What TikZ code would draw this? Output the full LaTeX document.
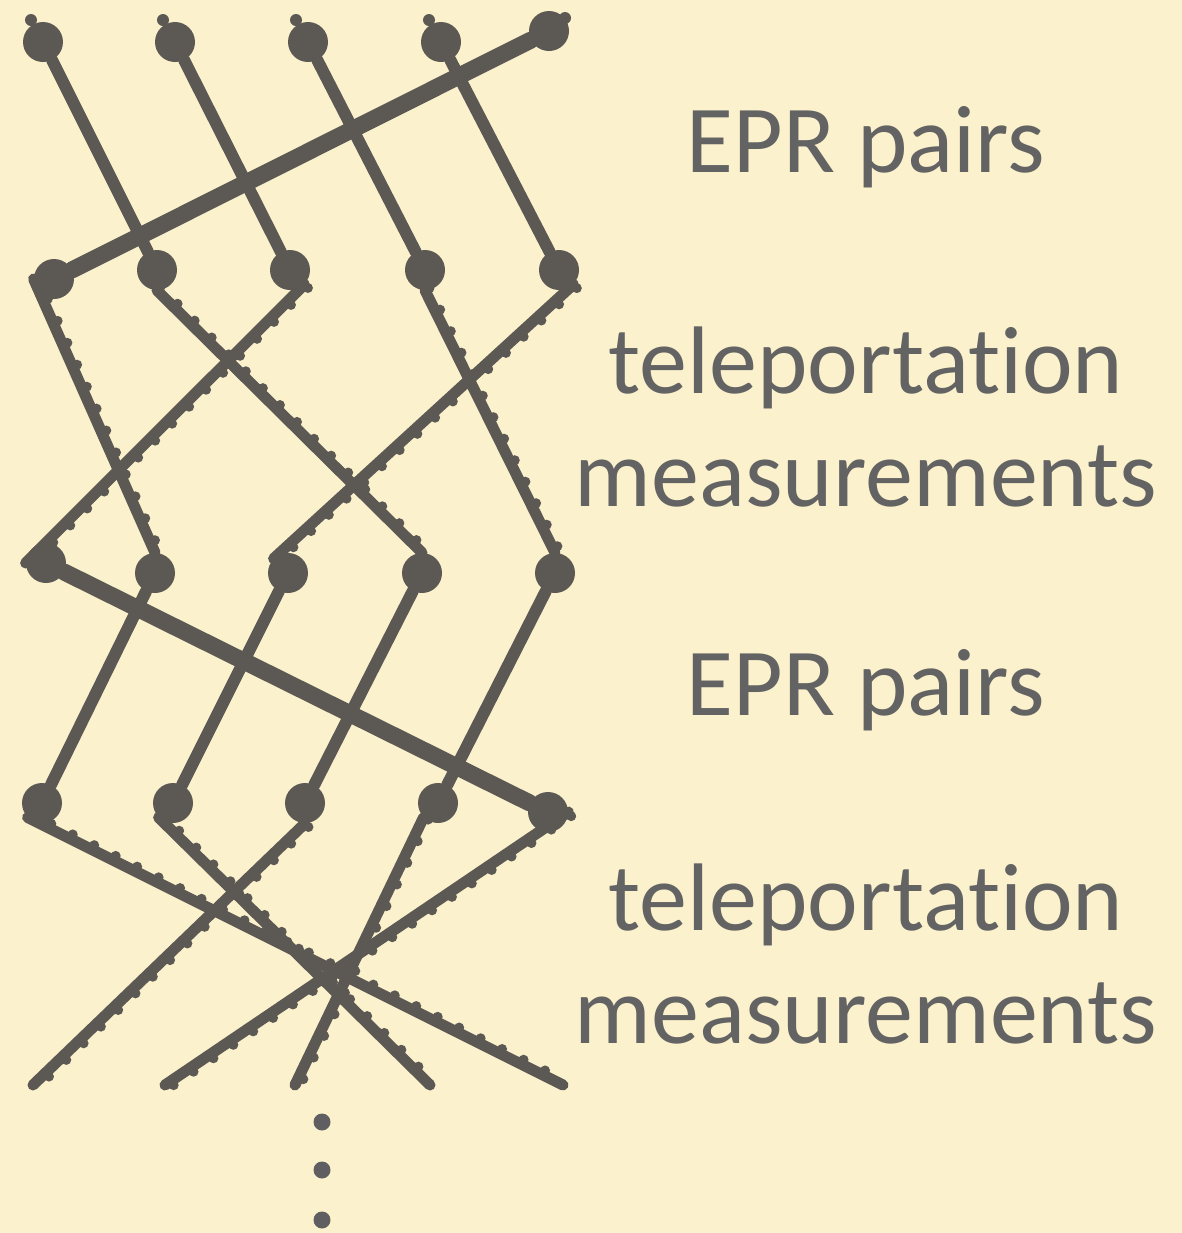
\documentclass[tikz,border=0pt]{standalone}
\usepackage{fontspec}
\setmainfont{Carlito}[Ligatures=NoCommon]
\usetikzlibrary{calc,backgrounds}
\definecolor{cP}{HTML}{FBF1CC}
\definecolor{cL}{HTML}{5C5954}
\definecolor{cT}{HTML}{636363}
\definecolor{cM}{HTML}{5F5F61}

\begin{document}
\begin{tikzpicture}[x=0.5pt,y=-0.5pt,
  dot/.style={circle,fill=cL,inner sep=0pt,minimum size=20pt},
  knob/.style={circle,fill=cL,inner sep=0pt,minimum size=6pt},
  more/.style={circle,fill=cM,inner sep=0pt,minimum size=8.5pt},
  epr/.style={cL,line width=6pt,line cap=round},
  eprw/.style={epr,line width=8.5pt},
  tp/.style={cL,line width=5.5pt,line cap=round},
  tpd/.style={cL,line width=5pt,line cap=round,dash pattern=on 0pt off 12pt},
  lbl/.style={cT,font=\fontsize{48}{56.5}\selectfont,align=center}]
\useasboundingbox (0,0) rectangle (1182,1233);
% dots, row by row
\node[dot] (r1a) at (43,42) {};
\node[dot] (r1b) at (175,42) {};
\node[dot] (r1c) at (308,42) {};
\node[dot] (r1d) at (441,42) {};
\node[dot] (r1e) at (549,31) {};
\node[dot] (r2a) at (54,279) {};
\node[dot] (r2b) at (157,270) {};
\node[dot] (r2c) at (290,270) {};
\node[dot] (r2d) at (425,270) {};
\node[dot] (r2e) at (559,270) {};
\node[dot] (r3a) at (46,563) {};
\node[dot] (r3b) at (155,573) {};
\node[dot] (r3c) at (288,573) {};
\node[dot] (r3d) at (422,573) {};
\node[dot] (r3e) at (555,573) {};
\node[dot] (r4a) at (42,803) {};
\node[dot] (r4b) at (173,803) {};
\node[dot] (r4c) at (305,803) {};
\node[dot] (r4d) at (438,803) {};
\node[dot] (r4e) at (548,812) {};
% loose line ends above the first row
\node[knob] (k1) at (31,20) {};
\node[knob] (k2) at (163,20) {};
\node[knob] (k3) at (296,20) {};
\node[knob] (k4) at (429,20) {};
\node[knob] (k5) at (565,18) {};
\coordinate (e1) at (33,1085);
\coordinate (e2) at (165,1085);
\coordinate (e3) at (295,1085);
\coordinate (e4) at (430,1085);
\coordinate (e5) at (563,1085);
\node[more] (m1) at (322,1122) {};
\node[more] (m2) at (322,1170) {};
\node[more] (m3) at (322,1220) {};
\begin{scope}[on background layer]
\fill[cP] (0,0) rectangle (1182,1233);
% EPR pairs
\draw[epr](r1a)--(r2b); \draw[epr](r1b)--(r2c); \draw[epr](r1c)--(r2d); \draw[epr](r1d)--(r2e);
\draw[eprw](r1e)--(r2a);
\draw[epr](r3b)--(r4a); \draw[epr](r3c)--(r4b); \draw[epr](r3d)--(r4c); \draw[epr](r3e)--(r4d);
\draw[eprw](r3a)--(r4e);
% teleportation: solid line with a row of bumps on its right
\foreach \a/\b in {r2a.west/r3b.north,r2b.south/r3d.north,r2c.south east/r3a.west,
  r2d.south/r3e.north,r2e.south east/r3c.north west,r4a.south west/e5,r4b.south west/e4,
  r4c.south/e1,r4d.south west/e3,r4e.east/e2}{
  \draw[tp] (\a) -- (\b);
  \draw[tpd] ($(\a)!2.5pt!90:(\b)$) -- ($(\b)!2.5pt!-90:(\a)$);
}
\end{scope}
\node[lbl,anchor=base] (t1) at (866,172) {EPR pairs};
\node[lbl,anchor=base] (t2) at (866,506) {teleportation\\measurements};
\node[lbl,anchor=base] (t3) at (866,715) {EPR pairs};
\node[lbl,anchor=base] (t4) at (866,1043) {teleportation\\measurements};
\end{tikzpicture}
\end{document}
